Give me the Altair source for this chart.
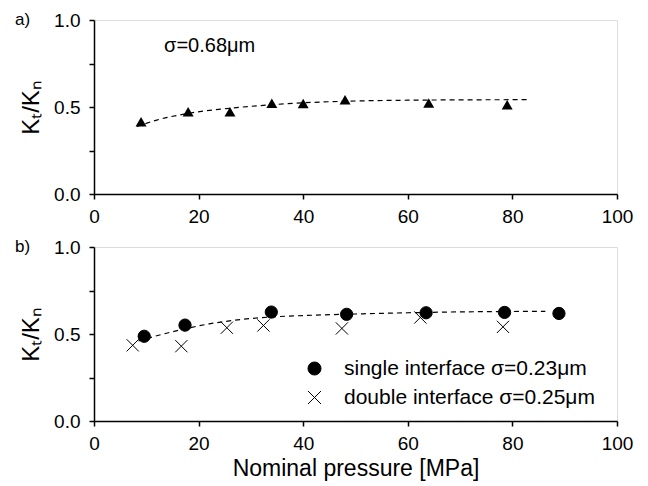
import altair as alt
import pandas as pd

# Panel a data
a_x = [9, 18, 26, 34, 40, 48, 64, 79]
a_y = [0.415, 0.473, 0.473, 0.522, 0.52, 0.542, 0.523, 0.513]
a_fit_x = [8.2, 12, 18, 26, 34, 40, 48, 60, 70, 83.4]
a_fit_y = [0.388, 0.425, 0.463, 0.493, 0.513, 0.524, 0.533, 0.539, 0.541, 0.542]

# Panel b data
single_x = [9.6, 17.4, 33.9, 48.3, 63.5, 78.5, 88.9]
single_y = [0.487, 0.551, 0.626, 0.613, 0.622, 0.624, 0.618]
double_x = [7.4, 16.7, 25.4, 32.4, 47.4, 62.4, 78.2]
double_y = [0.435, 0.43, 0.536, 0.549, 0.532, 0.595, 0.541]
b_fit_x = [8.5, 12, 17, 22, 28, 34, 40, 50, 60, 70, 86.3]
b_fit_y = [0.46, 0.49, 0.527, 0.558, 0.583, 0.598, 0.606, 0.615, 0.622, 0.627, 0.63]

series_names = ["single interface \u03c3=0.23\u03bcm", "double interface \u03c3=0.25\u03bcm"]
annot_a = "\u03c3=0.68\u03bcm"
annot_a_x = [13.4]
annot_a_y = [0.85]
x_ticks = [0, 20, 40, 60, 80, 100]
y_ticks = [0, 0.25, 0.5, 0.75, 1.0]

FONT = "Liberation Sans"
W, H = 523, 174
ytitle = "K\u209c/K\u2099"

def y_axis():
    return alt.Axis(values=y_ticks, format=".1f",
                    labelExpr="(datum.value == 0.25 || datum.value == 0.75) ? '' : format(datum.value, '.1f')",
                    title=ytitle, titleFontSize=24, titleFontWeight="normal",
                    titlePadding=10, labelFontSize=19, labelPadding=9,
                    tickSize=5, grid=False, domainColor="black", tickColor="black",
                    labelColor="black", titleColor="black", domainWidth=1.5, tickWidth=1.5)

def x_axis(title):
    kw = dict(values=x_ticks, labelFontSize=19, labelPadding=8, tickSize=5, grid=False,
              domainColor="black", tickColor="black", labelColor="black",
              titleColor="black", titleFontSize=23, titleFontWeight="normal",
              titlePadding=4, domainWidth=1.5, tickWidth=1.5, labelFlush=False)
    return alt.Axis(title=title, **kw) if title else alt.Axis(title=None, **kw)

xs = alt.Scale(domain=[0, 100], nice=False, zero=False)
ys = alt.Scale(domain=[0, 1], nice=False)

# ---- Panel a ----
da = pd.DataFrame({"x": a_x, "y": a_y})
dfa = pd.DataFrame({"x": a_fit_x, "y": a_fit_y})
dann = pd.DataFrame({"x": annot_a_x, "y": annot_a_y, "t": [annot_a]})

fit_a = alt.Chart(dfa).mark_line(color="black", strokeDash=[5, 4], strokeWidth=1.2,
                                 interpolate="monotone").encode(
    x=alt.X("x:Q", scale=xs, axis=x_axis(None)),
    y=alt.Y("y:Q", scale=ys, axis=y_axis()))
pts_a = alt.Chart(da).mark_point(shape="triangle-up", filled=True, color="black",
                                 size=120, opacity=1).encode(x="x:Q", y="y:Q")
txt_a = alt.Chart(dann).mark_text(align="left", baseline="middle", fontSize=20,
                                  font=FONT, color="black").encode(x="x:Q", y="y:Q", text="t:N")
lab_a = alt.Chart(pd.DataFrame({"t": ["a)"]})).mark_text(
    align="left", baseline="middle", fontSize=17, font=FONT, color="black").encode(
    x=alt.value(-79), y=alt.value(0), text="t:N")
panel_a = alt.layer(fit_a, pts_a, txt_a, lab_a).properties(width=W, height=H)

# ---- Panel b ----
db = pd.DataFrame({
    "x": single_x + double_x,
    "y": single_y + double_y,
    "s": [series_names[0]] * len(single_x) + [series_names[1]] * len(double_x),
})
dfb = pd.DataFrame({"x": b_fit_x, "y": b_fit_y})

fit_b = alt.Chart(dfb).mark_line(color="black", strokeDash=[5, 4], strokeWidth=1.2,
                                 interpolate="monotone").encode(
    x=alt.X("x:Q", scale=xs, axis=x_axis("Nominal pressure [MPa]")),
    y=alt.Y("y:Q", scale=ys, axis=y_axis()))
legend = alt.Legend(title=None, orient="none", legendX=210, legendY=111, padding=0,
                    labelFontSize=21, labelFont=FONT, labelColor="black", labelLimit=0,
                    labelOffset=19, rowPadding=7, symbolSize=170,
                    symbolStrokeColor="black", symbolStrokeWidth=1)
sdom = alt.Scale(domain=series_names, range=["circle", "M-1,-1L1,1M1,-1L-1,1"])
pts_b = alt.Chart(db).mark_point(size=150, strokeWidth=1, opacity=1).encode(
    x="x:Q", y="y:Q",
    shape=alt.Shape("s:N", scale=sdom, legend=legend),
    fill=alt.Fill("s:N", scale=alt.Scale(domain=series_names, range=["black", "transparent"]),
                  legend=legend),
    stroke=alt.Stroke("s:N", scale=alt.Scale(domain=series_names, range=["black", "black"]),
                      legend=legend))
lab_b = alt.Chart(pd.DataFrame({"t": ["b)"]})).mark_text(
    align="left", baseline="middle", fontSize=17, font=FONT, color="black").encode(
    x=alt.value(-79), y=alt.value(0), text="t:N")
panel_b = alt.layer(fit_b, pts_b, lab_b).properties(width=W, height=H)

chart = alt.vconcat(panel_a, panel_b, spacing=10).resolve_legend(
    shape="independent", fill="independent", stroke="independent"
).properties(
    padding={"left": 6, "top": 2, "right": 5, "bottom": 5}
).configure_view(stroke=None).configure(font=FONT).configure_axis(labelFont=FONT, titleFont=FONT)

chart.save("out.html", embed_options={"renderer": "svg", "actions": False})
